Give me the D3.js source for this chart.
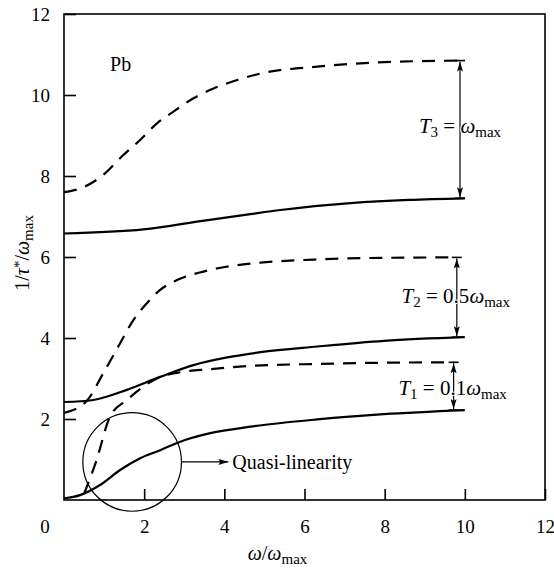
<!DOCTYPE html>
<html>
<head>
<meta charset="utf-8">
<script src="https://cdn.jsdelivr.net/npm/d3@7"></script>
<style>
  body { margin: 0; background: #fff; }
</style>
</head>
<body>
<div id="chart"></div>
<script>
// curves: [omega/omega_max, 1/tau*/omega_max]
const t1Solid = [[0, 0.04], [0.4, 0.12], [0.9, 0.37], [1.4, 0.74], [1.9, 1.03], [2.4, 1.23], [2.9, 1.44],
  [3.65, 1.65], [4.65, 1.81], [6.32, 1.99], [7.98, 2.12], [10, 2.22]];
const t1Dashed = [[0.5, 0.15], [0.8, 0.95], [1.15, 2.06], [1.57, 2.47], [1.98, 2.8], [2.4, 3.04], [2.82, 3.14],
  [3.65, 3.23], [4.65, 3.31], [6.32, 3.36], [7.98, 3.39], [9.72, 3.4]];
const t2Solid = [[0, 2.42], [0.73, 2.47], [1.57, 2.72], [2.4, 3.04], [3.23, 3.33], [4.07, 3.52], [4.9, 3.65],
  [6.32, 3.79], [7.98, 3.93], [10, 4.02]];
const t2Dashed = [[0, 2.15], [0.57, 2.45], [0.98, 3.13], [1.4, 3.87], [1.73, 4.44], [2.07, 4.86], [2.4, 5.19],
  [2.82, 5.43], [3.48, 5.64], [4.32, 5.8], [4.9, 5.86], [6.32, 5.94], [7.98, 5.98], [9.8, 5.99]];
const t3Solid = [[0, 6.58], [1.98, 6.68], [3.5, 6.9], [4.65, 7.06], [5.4, 7.16], [7.15, 7.33], [8.6, 7.41], [10, 7.45]];
const t3Dashed = [[0, 7.6], [0.5, 7.73], [1.03, 8.07], [1.44, 8.48], [1.9, 8.89], [2.32, 9.3], [2.73, 9.59],
  [3.23, 9.92], [3.73, 10.16], [4.32, 10.37], [4.9, 10.53], [6.32, 10.7], [7.98, 10.81], [9.88, 10.85]];

const xTicks = [2, 4, 6, 8, 10, 12];
const yTicks = [2, 4, 6, 8, 10, 12];

// dimension arrows: x position, from dashed value to solid value, label
const gaps = [
  { x: 9.88, y0: 10.85, y1: 7.45, sub: "3", rhs: "", labelY: 9.05 },
  { x: 9.8, y0: 5.99, y1: 4.02, sub: "2", rhs: "0.5", labelY: 4.86 },
  { x: 9.72, y0: 3.4, y1: 2.22, sub: "1", rhs: "0.1", labelY: 2.6 },
];

const FONT = "Liberation Serif";

const margin = { top: 14, right: 9, bottom: 71, left: 64 };
const width = 554 - margin.left - margin.right;
const height = 571 - margin.top - margin.bottom;

const svg = d3.select("#chart").append("svg")
  .attr("width", 554).attr("height", 571)
  .append("g")
  .attr("transform", `translate(${margin.left},${margin.top})`);

const x = d3.scaleLinear().domain([0, 12]).range([0, width]);
const y = d3.scaleLinear().domain([0, 12]).range([height, 0]);

const defs = svg.append("defs");
defs.append("marker")
  .attr("id", "head")
  .attr("viewBox", "0 0 10 6")
  .attr("refX", 10).attr("refY", 3)
  .attr("markerWidth", 10).attr("markerHeight", 6)
  .attr("markerUnits", "userSpaceOnUse")
  .attr("orient", "auto-start-reverse")
  .append("path")
  .attr("d", "M0,0 L10,3 L0,6 L2,3 Z")
  .attr("fill", "#000");

// frame
svg.append("rect")
  .attr("width", width).attr("height", height)
  .attr("fill", "none").attr("stroke", "#000").attr("stroke-width", 1.6);

const xAxis = d3.axisBottom(x).tickValues(xTicks).tickSizeInner(-11).tickSizeOuter(0).tickPadding(20);
const yAxis = d3.axisLeft(y).tickValues(yTicks).tickSizeInner(-12).tickSizeOuter(0).tickPadding(14);

const gx = svg.append("g").attr("transform", `translate(0,${height})`).call(xAxis);
const gy = svg.append("g").call(yAxis);
[gx, gy].forEach(g => {
  g.attr("font-family", FONT).attr("font-size", 19);
  g.select(".domain").remove();
  g.selectAll("line").attr("stroke-width", 1.6);
  g.selectAll("text").attr("font-family", FONT).attr("font-size", 19).attr("fill", "#000");
});

// shared corner zero
svg.append("text")
  .attr("x", x(0) - 19).attr("y", height + 33)
  .attr("text-anchor", "middle")
  .attr("font-family", FONT).attr("font-size", 19)
  .text("0");

const line = d3.line().x(d => x(d[0])).y(d => y(d[1])).curve(d3.curveMonotoneX);

function drawCurve(data, dashed) {
  svg.append("path")
    .datum(data)
    .attr("d", line)
    .attr("fill", "none")
    .attr("stroke", "#000")
    .attr("stroke-width", 2.2)
    .attr("stroke-dasharray", dashed ? "13,9" : null);
}
drawCurve(t1Solid, false);
drawCurve(t1Dashed, true);
drawCurve(t2Solid, false);
drawCurve(t2Dashed, true);
drawCurve(t3Solid, false);
drawCurve(t3Dashed, true);

// quasi-linearity circle and pointer
const circ = { x: 1.7, y: 0.94, r: 1.23 };
svg.append("circle")
  .attr("cx", x(circ.x)).attr("cy", y(circ.y))
  .attr("r", x(circ.r) - x(0))
  .attr("fill", "none").attr("stroke", "#000").attr("stroke-width", 1.2);
svg.append("line")
  .attr("x1", x(circ.x + circ.r)).attr("x2", x(4.1))
  .attr("y1", y(circ.y)).attr("y2", y(circ.y))
  .attr("stroke", "#000").attr("stroke-width", 1.2)
  .attr("marker-end", "url(#head)");
svg.append("text")
  .attr("x", x(4.2)).attr("y", y(circ.y)).attr("dy", "0.33em")
  .attr("font-family", FONT).attr("font-size", 20)
  .text("Quasi-linearity");

svg.append("text")
  .attr("x", x(1.15)).attr("y", y(10.6))
  .attr("font-family", FONT).attr("font-size", 20)
  .text("Pb");

// dimension arrows between dashed and solid curves
gaps.forEach(g => {
  const px = x(g.x);
  svg.append("line")
    .attr("x1", px).attr("x2", px)
    .attr("y1", y(g.y0) + 1).attr("y2", y(g.y1) - 1)
    .attr("stroke", "#000").attr("stroke-width", 1.2)
    .attr("marker-start", "url(#head)")
    .attr("marker-end", "url(#head)");
  [g.y0, g.y1].forEach(v => {
    svg.append("line")
      .attr("x1", px - 5).attr("x2", px + 5)
      .attr("y1", y(v)).attr("y2", y(v))
      .attr("stroke", "#000").attr("stroke-width", 1.6);
  });
  const t = svg.append("text")
    .attr("x", px + (g.rhs ? -1 : 0)).attr("y", y(g.labelY))
    .attr("text-anchor", "middle")
    .attr("font-family", FONT).attr("font-size", 21)
    .attr("stroke", "#fff").attr("stroke-width", 2)
    .attr("paint-order", "stroke");
  t.append("tspan").attr("font-style", "italic").text("T");
  t.append("tspan").attr("baseline-shift", "-25%").attr("font-size", 15).text(g.sub);
  t.append("tspan").text(" = " + g.rhs);
  t.append("tspan").attr("font-style", "italic").text("ω");
  t.append("tspan").attr("baseline-shift", "-25%").attr("font-size", 15).text("max");
});

// axis titles
const xl = svg.append("text")
  .attr("x", width / 2 - 27).attr("y", height + 60)
  .attr("text-anchor", "middle")
  .attr("font-family", FONT).attr("font-size", 20);
xl.append("tspan").attr("font-style", "italic").text("ω");
xl.append("tspan").text("/");
xl.append("tspan").attr("font-style", "italic").text("ω");
xl.append("tspan").attr("baseline-shift", "-25%").attr("font-size", 15).text("max");

const yl = svg.append("text")
  .attr("transform", `translate(${-margin.left + 29},${y(6.1)}) rotate(-90)`)
  .attr("text-anchor", "middle")
  .attr("font-family", FONT).attr("font-size", 20);
yl.append("tspan").text("1/");
yl.append("tspan").attr("font-style", "italic").text("τ");
yl.append("tspan").attr("baseline-shift", "35%").attr("font-size", 15).text("*");
yl.append("tspan").text("/");
yl.append("tspan").attr("font-style", "italic").text("ω");
yl.append("tspan").attr("baseline-shift", "-25%").attr("font-size", 15).text("max");
</script>
</body>
</html>
